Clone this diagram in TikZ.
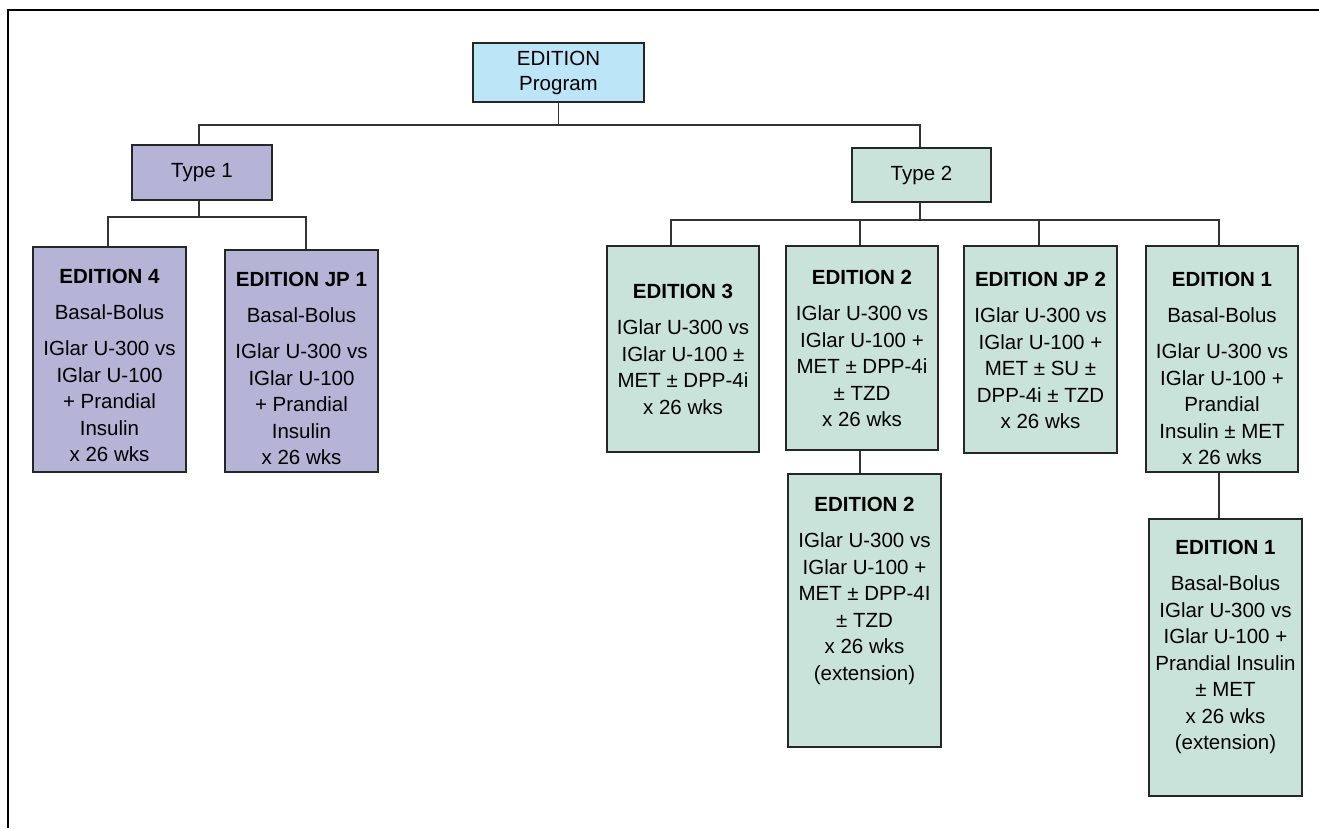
\documentclass[tikz,border=0pt]{standalone}
\usepackage{fontspec}
\setmainfont{Liberation Sans}
\definecolor{lav}{RGB}{181,179,214}
\definecolor{mint}{RGB}{201,227,219}
\definecolor{sky}{RGB}{189,229,248}
\begin{document}
\begin{tikzpicture}[x=1pt,y=-1pt,
  box/.style={draw=black!85, line width=1.4pt, rectangle, inner sep=0pt, align=center,
              font=\fontsize{20.5}{25}\selectfont},
  pur/.style={box, fill=lav},
  grn/.style={box, fill=mint},
  blu/.style={box, fill=sky},
  txt/.style={align=center, inner sep=0pt, anchor=north, font=\fontsize{20.5}{26.5}\selectfont},
  conn/.style={draw=black!80, line width=1.4pt}]
\useasboundingbox (0,0) rectangle (1319,828);
\draw[line width=1.6pt] (8,828) -- (8,10) -- (1319,10);

% boxes
\node[blu, minimum width=171pt, minimum height=59pt] (prog) at (558.5,72.5) {EDITION\\Program};
\node[pur, minimum width=140pt, minimum height=55pt] (t1) at (202,172.5) {Type 1};
\node[grn, minimum width=139pt, minimum height=54pt] (t2) at (921.5,175) {Type 2};

\node[pur, minimum width=153pt, minimum height=225pt] (e4) at (109.5,359.5) {};
\node[pur, minimum width=153pt, minimum height=222pt] (jp1) at (301.5,361) {};
\node[grn, minimum width=152pt, minimum height=206pt] (e3) at (683,349) {};
\node[grn, minimum width=152pt, minimum height=204pt] (e2) at (862,348) {};
\node[grn, minimum width=153pt, minimum height=207pt] (jp2) at (1040.5,349.5) {};
\node[grn, minimum width=152pt, minimum height=226pt] (e1) at (1222,359) {};
\node[grn, minimum width=153pt, minimum height=273pt] (e2x) at (864.5,610.5) {};
\node[grn, minimum width=153pt, minimum height=277pt] (e1x) at (1225.5,657.5) {};

% texts
\node[txt] (e4t) at ([yshift=-23pt]e4.north) {\textbf{EDITION 4}\\[9.5pt]Basal-Bolus\\[9.5pt]IGlar U-300 vs\\IGlar U-100\\+ Prandial\\Insulin\\x 26 wks};
\node[txt] (jp1t) at ([yshift=-23pt]jp1.north) {\textbf{EDITION JP 1}\\[9.5pt]Basal-Bolus\\[9.5pt]IGlar U-300 vs\\IGlar U-100\\+ Prandial\\Insulin\\x 26 wks};
\node[txt] (e3t) at ([yshift=-39pt]e3.north) {\textbf{EDITION 3}\\[9.5pt]IGlar U-300 vs\\IGlar U-100 ±\\MET ± DPP-4i\\x 26 wks};
\node[txt] (e2t) at ([yshift=-25pt]e2.north) {\textbf{EDITION 2}\\[9.5pt]IGlar U-300 vs\\IGlar U-100 +\\MET ± DPP-4i\\± TZD\\x 26 wks};
\node[txt] (jp2t) at ([yshift=-27pt]jp2.north) {\textbf{EDITION JP 2}\\[9.5pt]IGlar U-300 vs\\IGlar U-100 +\\MET ± SU ±\\DPP-4i ± TZD\\x 26 wks};
\node[txt] (e1t) at ([yshift=-27pt]e1.north) {\textbf{EDITION 1}\\[9.5pt]Basal-Bolus\\[9.5pt]IGlar U-300 vs\\IGlar U-100 +\\Prandial\\Insulin ± MET\\x 26 wks};
\node[txt] (e2xt) at ([yshift=-24pt]e2x.north) {\textbf{EDITION 2}\\[9.5pt]IGlar U-300 vs\\IGlar U-100 +\\MET ± DPP-4I\\± TZD\\x 26 wks\\(extension)};
\node[txt] (e1xt) at ([yshift=-22pt]e1x.north) {\textbf{EDITION 1}\\[9.5pt]Basal-Bolus\\IGlar U-300 vs\\IGlar U-100 +\\Prandial Insulin\\± MET\\x 26 wks\\(extension)};

% connectors
\coordinate (b0) at (558.5,125);
\coordinate (b1) at (199,217);
\coordinate (b2) at (920,220);
\draw[conn] (prog.south) -- (b0);
\draw[conn] ([xshift=-3pt]t1.north) |- (b0);
\draw[conn] ([xshift=-1.5pt]t2.north) |- (b0);
\draw[conn] ([xshift=-3pt]t1.south) -- (b1);
\draw[conn] ([xshift=-1.5pt]e4.north) |- (b1);
\draw[conn] ([xshift=4.5pt]jp1.north) |- (b1);
\draw[conn] ([xshift=-1.5pt]t2.south) -- (b2);
\draw[conn] ([xshift=-12pt]e3.north) |- (b2);
\draw[conn] ([xshift=-2pt]e2.north) |- (b2);
\draw[conn] ([xshift=-1.5pt]jp2.north) |- (b2);
\draw[conn] ([xshift=-3pt]e1.north) |- (b2);
\draw[conn] ([xshift=-2pt]e2.south) -- ([xshift=-2pt]e2.south |- e2x.north);
\draw[conn] ([xshift=-3pt]e1.south) -- ([xshift=-3pt]e1.south |- e1x.north);
\end{tikzpicture}
\end{document}
